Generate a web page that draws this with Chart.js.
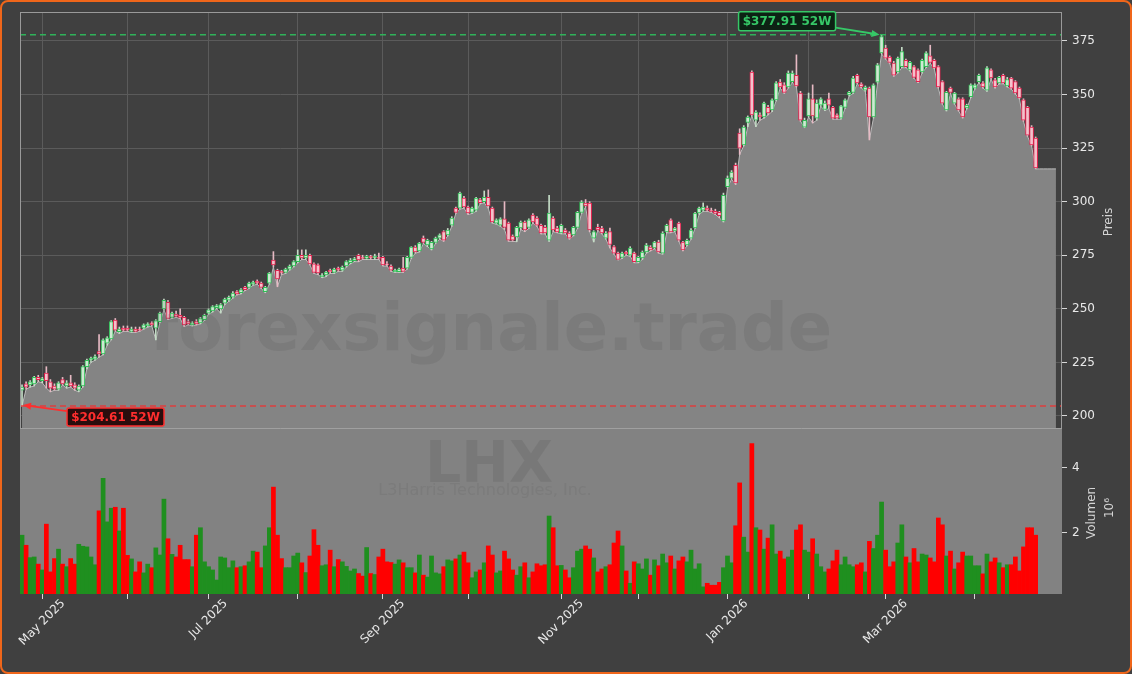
<!DOCTYPE html>
<html>
<head>
<meta charset="utf-8">
<script src="https://cdn.jsdelivr.net/npm/chart.js@4/dist/chart.umd.min.js"></script>
<style>
  html, body { margin: 0; padding: 0; background: #404040; }
  #wrap { position: relative; width: 1132px; height: 674px; overflow: hidden; background: #404040; }
  #wrap canvas { position: absolute; left: 0; }
  #priceCanvas { top: 0; }
  #volumeCanvas { top: 428px; }
  #frame { position: absolute; left: 0; top: 0; width: 1132px; height: 674px; box-sizing: border-box;
           border: 2px solid #f0661a; border-radius: 8px; pointer-events: none; }
</style>
</head>
<body>
<div id="wrap">
  <canvas id="priceCanvas" width="1132" height="428"></canvas>
  <canvas id="volumeCanvas" width="1132" height="246"></canvas>
  <div id="frame"></div>
</div>
<script>
// LHX daily candles, 24 Apr 2025 - 23 Apr 2026
const firstTradingDay = '2025-04-24';
const holidays = ['2025-05-26', '2025-06-19', '2025-07-04', '2025-09-01', '2025-11-27',
                  '2025-12-25', '2026-01-01', '2026-01-19', '2026-02-16', '2026-04-03'];
const monthNames = ['Jan', 'Feb', 'Mar', 'Apr', 'May', 'Jun', 'Jul', 'Aug', 'Sep', 'Oct', 'Nov', 'Dec'];

const open = [
  212, 215, 214.5, 215, 218, 216.5, 220, 216, 214, 212.5,
  217, 214, 215.5, 214.5, 212, 214, 223, 226, 226.5, 230,
  229, 234, 236, 244.8, 239.3, 241, 241, 239.5, 240.5, 240.5,
  241, 242, 243.5, 241, 244, 250, 253, 246, 247.5, 247,
  246, 244, 242.5, 244, 243.4, 245, 248, 249, 250.5, 250,
  252.7, 254, 255.5, 258, 257.5, 260, 260, 261.5, 263, 262,
  258, 262, 272.8, 268, 267.5, 267, 268.5, 270, 272, 275,
  273.7, 275, 271, 270.5, 265, 265.8, 268, 267, 269, 268,
  270, 271.5, 272.5, 275, 274, 273.5, 274.5, 273.7, 274, 274,
  271, 270, 267.3, 267.3, 269, 269, 274, 278.8, 277, 283,
  279.8, 278, 281, 283, 286, 284.5, 289, 297, 297, 301.7,
  297.5, 295, 296, 301, 300, 302, 297, 290, 289, 292,
  290, 284, 283.5, 287.7, 290.5, 288, 293.8, 292.4, 289, 288,
  282, 292.4, 287.7, 285.4, 286.8, 285.4, 284.5, 288, 295, 299.4,
  299.4, 283, 288, 287.7, 283, 286, 279, 276, 274, 276.5,
  275, 276, 272, 273.7, 276.5, 278.8, 278.4, 281.2, 276, 285.9,
  291.5, 286.3, 290, 281.2, 279.8, 283, 287.7, 294.7, 296, 297,
  296, 295.5, 295, 291, 307, 311, 317, 332, 326.5, 337,
  360.5, 338, 340.5, 339.5, 344, 342.8, 347.5, 355.8, 354.5, 353.5,
  356, 359, 350.7, 334.8, 340, 348, 339, 345, 343, 348,
  344, 340.5, 339, 344, 349.8, 351, 359, 355, 352, 353,
  339.5, 355.8, 369.4, 371.7, 367.5, 364.7, 360.5, 363, 366, 361.5,
  363, 361.5, 360.5, 363, 368, 366, 363, 356, 342.8, 353,
  346, 348, 348, 343.7, 349, 353, 356, 355.4, 352, 361.5,
  356.8, 355.4, 359, 354, 357.7, 356, 353, 347.5, 344, 334.8,
  329.7
];

const high = [
  214.5, 216, 216.5, 218.5, 219, 218, 223, 217, 215, 216,
  218, 216.5, 219, 215.5, 214.5, 223.5, 226.5, 227.5, 228.5, 238,
  236, 237, 244.5, 245.5, 241.5, 242, 242, 241.5, 241.5, 241.5,
  243, 243.5, 244, 245, 248.5, 254.5, 254, 248.5, 249, 250,
  246.5, 245, 244, 245, 246, 247.5, 250, 251.5, 252, 252.5,
  255, 256, 258, 258.5, 259.5, 260.5, 262.5, 263, 263.5, 262.5,
  260.5, 267, 276.7, 268.5, 268, 269, 270.5, 272.5, 277.5, 277.5,
  277.5, 275.5, 271.5, 271, 266.5, 267.5, 268.5, 269, 269.5, 270,
  272.5, 273.5, 274, 275.5, 275, 275, 275, 275.5, 276, 274.5,
  272, 270.5, 268.5, 269, 274, 274.5, 279, 279.5, 281, 284,
  282.5, 281.5, 283.5, 285, 286.5, 287.5, 293, 297.5, 304.5, 302.5,
  298, 297.5, 302, 301.5, 305, 305.5, 297.5, 292, 292.5, 300,
  290.5, 284.5, 288.5, 291, 291, 292, 294.5, 293, 289.5, 289,
  303, 293, 288.5, 289.5, 287.5, 286, 288.5, 295.5, 300.5, 301,
  300, 286.5, 289.5, 288.5, 286, 287.7, 279.5, 276.5, 276.5, 277,
  279, 276.5, 274.5, 277, 280.5, 279.5, 281.5, 282, 286, 289.5,
  292, 288, 290.5, 281.5, 282.5, 287.5, 295, 297.5, 299.4, 298,
  297, 296.5, 295.5, 304, 312, 314.5, 318, 334, 335.5, 340,
  361, 342.5, 341.5, 346.5, 345, 348, 356, 357, 355.5, 361,
  361, 368.5, 351.5, 339, 350.7, 354.5, 347.5, 348.5, 347, 350.7,
  344.5, 341, 345, 348, 351.5, 358.5, 359.5, 355.5, 354, 353.5,
  355, 364.5, 377.91, 373, 368, 365.5, 367.5, 372, 366.5, 365.5,
  363.5, 362, 366.5, 370, 373, 366.5, 363.5, 356.5, 351.5, 353.5,
  351, 348.5, 348.5, 345.5, 355, 355, 359.5, 356, 363, 362,
  357.5, 358.5, 359.5, 358, 358, 356.5, 353.5, 348, 344.5, 335.5,
  330.2
];

const low = [
  204.61, 212.5, 213.5, 214, 216, 215.5, 213, 211.3, 212, 212,
  214.5, 213, 213.5, 212, 211.3, 213.5, 222, 225, 226, 227.5,
  228.5, 233, 235.5, 239.5, 238.5, 239.5, 239.5, 239, 239, 239.5,
  240.5, 241.5, 242, 235.5, 243.5, 249.5, 245, 245.5, 246, 245.5,
  241.7, 242.5, 242, 242.5, 243, 244.5, 247.5, 248.5, 250, 248,
  252, 253.5, 255, 256.5, 257, 258.5, 259.5, 261, 261.5, 259.5,
  257.5, 261.5, 269.5, 260.3, 266, 266.5, 268, 269.5, 271.5, 273,
  273, 270.5, 266.5, 266, 264.5, 265, 266.5, 266.5, 267.5, 267.5,
  269.5, 271, 272, 272, 273, 273, 273, 273, 273, 270,
  270, 267.5, 267, 267, 267, 268.5, 273.5, 276, 276.5, 280.5,
  279, 277.5, 280.5, 282.5, 281.5, 284, 288.5, 294.5, 296.5, 297,
  294, 294.5, 295.5, 299, 299.5, 297, 290, 289.5, 288.5, 287,
  281.5, 281.5, 281.3, 287, 286, 287.5, 290, 288.5, 285, 285,
  281.5, 286, 285.5, 285, 285, 282.5, 284, 287.5, 294.5, 297.5,
  286, 281.2, 286.5, 285, 282.5, 278.4, 275.5, 272.8, 273.5, 275,
  274.5, 271.5, 271.5, 273, 276, 277, 278, 276, 275.5, 285.5,
  285.5, 286, 281.5, 277, 279.3, 282.5, 287.5, 294, 295.5, 295.5,
  295, 294, 292.5, 290.5, 306.5, 310.5, 308, 322, 326, 335,
  340, 335, 338, 339, 340.5, 342, 347, 353, 350.5, 353,
  355.5, 353.5, 337.5, 334.5, 339.5, 336.7, 338, 344.5, 342.5, 343.5,
  338.5, 338.5, 338.5, 343.5, 349.3, 350.5, 355, 353, 351.5, 328.8,
  339, 355.3, 369, 366.5, 364.5, 358.5, 360, 362.5, 362.5, 361,
  357.5, 355.5, 360, 362.5, 364.5, 362, 353, 345.5, 342.3, 350.5,
  345.5, 342.3, 339, 343.2, 348.5, 352.5, 355.5, 353, 351.5, 357.2,
  353, 355, 355, 353.5, 352.5, 350.2, 348, 337.5, 330.5, 326,
  315.3
];

const close = [
  213.5, 213.5, 216, 218, 217, 217.5, 216.5, 213, 212.5, 215.5,
  215, 215.5, 214, 213, 214, 223, 226, 227, 227.7, 229,
  235.5, 236.5, 244, 240, 240.5, 240, 240, 240.5, 239.5, 240,
  242.5, 243, 242.5, 244.5, 248, 254, 245.5, 248, 246.5, 246,
  242.5, 243, 243.5, 243, 245.5, 247, 249.5, 251, 251.5, 252,
  254.6, 255.5, 257.4, 257, 259, 259, 262, 262.5, 262, 260,
  260, 266.7, 270.5, 264, 266.7, 268.5, 270, 272, 275, 273.7,
  275, 271, 267, 266.7, 265.8, 267.2, 267.2, 268.5, 268, 269.5,
  272, 272.8, 273.5, 272.8, 273.5, 274.5, 273.7, 274.5, 273.5, 270.5,
  270.5, 268, 268, 268.5, 267.5, 274, 278.8, 276.5, 280.7, 281,
  282, 281, 283, 284.5, 282, 286.8, 292.4, 295, 304, 297.5,
  294.7, 297, 301.7, 299.5, 302, 298, 290.5, 291.5, 292, 288,
  282, 282, 288, 290.5, 286.8, 291.5, 290.5, 289, 285.4, 285.4,
  294.7, 286.8, 285.9, 289, 285.4, 283, 288, 295, 299.8, 298,
  286.8, 286, 286.8, 285.4, 285.4, 280, 276, 273, 276, 275.6,
  278.4, 272, 274, 276.5, 279.8, 277.5, 281.2, 276.5, 285.4, 289,
  285.9, 287.7, 282, 277.5, 282, 286.8, 294.7, 297, 297.5, 296,
  295.5, 294.5, 293.5, 303, 311, 313.8, 308.7, 325, 334.8, 339.5,
  340.5, 341.8, 339.5, 346, 341.4, 347.5, 355.4, 353.5, 351, 360,
  360, 354, 338, 338, 348, 340, 346, 348, 346, 345,
  339, 339, 344.7, 347.5, 351, 357.7, 355.4, 353.5, 353.5, 339.5,
  354.5, 363.8, 377, 367, 365, 359, 367, 370, 363, 365,
  358, 356, 366, 369.4, 365, 362.4, 353.5, 346, 351, 351,
  350.7, 342.8, 339.5, 345, 354.5, 354.5, 359, 353.5, 362.4, 357.7,
  353.5, 358, 355.4, 357, 353, 350.7, 348.4, 338, 331, 326.5,
  315.7
];

// volume in millions of shares
const volume = [
  1.93, 1.62, 1.24, 1.26, 1.04, 0.86, 2.27, 0.80, 1.21, 1.50,
  1.04, 0.96, 1.21, 1.04, 1.65, 1.59, 1.57, 1.26, 1.02, 2.68,
  3.68, 2.34, 2.76, 2.79, 2.06, 2.76, 1.31, 1.20, 0.80, 1.11,
  0.77, 1.04, 0.93, 1.54, 1.32, 3.04, 1.82, 1.34, 1.26, 1.62,
  1.18, 1.18, 0.96, 1.93, 2.16, 1.11, 0.96, 0.86, 0.55, 1.26,
  1.23, 0.93, 1.14, 0.93, 0.96, 0.99, 1.11, 1.44, 1.41, 0.93,
  1.60, 2.16, 3.41, 1.93, 1.21, 0.93, 0.93, 1.29, 1.38, 1.08,
  0.78, 1.29, 2.10, 1.62, 0.99, 1.02, 1.47, 0.96, 1.18, 1.11,
  0.97, 0.83, 0.89, 0.75, 0.67, 1.55, 0.75, 0.72, 1.26, 1.50,
  1.11, 1.09, 1.04, 1.17, 1.08, 0.93, 0.93, 0.77, 1.32, 0.70,
  0.64, 1.29, 0.77, 0.74, 0.96, 1.17, 1.14, 1.20, 1.32, 1.41,
  1.08, 0.62, 0.80, 0.86, 1.08, 1.60, 1.32, 0.77, 0.83, 1.44,
  1.20, 0.86, 0.70, 0.96, 1.08, 0.62, 0.80, 1.05, 0.99, 1.02,
  2.52, 2.16, 0.99, 1.00, 0.86, 0.62, 0.93, 1.44, 1.50, 1.60,
  1.50, 1.23, 0.80, 0.89, 0.96, 1.02, 1.69, 2.06, 1.60, 0.83,
  0.45, 1.11, 1.05, 0.89, 1.20, 0.70, 1.17, 0.99, 1.35, 1.08,
  1.29, 0.89, 1.14, 1.26, 1.11, 1.47, 0.89, 1.05, 0.34, 0.45,
  0.39, 0.39, 0.48, 0.93, 1.29, 1.08, 2.22, 3.54, 1.87, 1.41,
  4.75, 2.16, 2.09, 1.50, 1.84, 2.25, 1.35, 1.44, 1.20, 1.26,
  1.47, 2.09, 2.25, 1.47, 1.41, 1.82, 1.35, 0.96, 0.80, 0.89,
  1.14, 1.47, 1.02, 1.26, 1.02, 0.96, 1.02, 1.08, 0.80, 1.74,
  1.52, 1.93, 2.95, 1.47, 0.96, 1.11, 1.69, 2.25, 1.26, 1.08,
  1.52, 1.11, 1.35, 1.32, 1.23, 1.11, 2.46, 2.25, 1.29, 1.44,
  0.89, 1.08, 1.41, 1.29, 1.29, 0.99, 0.99, 0.74, 1.35, 1.11,
  1.23, 1.08, 0.93, 1.02, 1.02, 1.26, 0.83, 1.57, 2.16, 2.16,
  1.93
];

const priceTicks = { min: 194.4, max: 388.5, step: 25 };
const volumeTicks = { min: 0.12, max: 5.23, step: 2 };
const emptySlots = 6;       // blank room right of the last candle
const areaTailSlots = 5;    // the grey fill runs on flat past the last candle

Chart.defaults.font.family = "'DejaVu Sans', sans-serif";
Chart.defaults.font.size = 12;

// trading calendar for the category axis
function buildTradingDays(start, count) {
    const out = [];
    const d = new Date(start + 'T00:00:00Z');
    while (out.length < count) {
        const iso = d.toISOString().slice(0, 10);
        const wd = d.getUTCDay();
        if (wd !== 0 && wd !== 6 && !holidays.includes(iso)) out.push(iso);
        d.setUTCDate(d.getUTCDate() + 1);
    }
    return out;
}

const dates = buildTradingDays(firstTradingDay, close.length);
const xLabels = dates.concat(Array(emptySlots).fill(''));
const monthStart = xLabels.map((d, i) => i > 0 && i < dates.length && d.slice(5, 7) !== dates[i - 1].slice(5, 7));
const tickLabels = xLabels.map((d, i) => {
    if (!monthStart[i]) return '';
    const m = +d.slice(5, 7);
    return m % 2 === 1 ? monthNames[m - 1] + ' ' + d.slice(0, 4) : '';
});

const isUp = close.map((c, i) => c >= open[i]);
const bodies = open.map((o, i) => [o, close[i]]);
const wicks = low.map((l, i) => [l, high[i]]);
const areaData = low.concat(Array(areaTailSlots).fill(low[low.length - 1]));

const highIdx = high.indexOf(Math.max(...high));
const lowIdx = low.indexOf(Math.min(...low));

// no extra room for tick labels, the panels sit flush
function noPadding(s) {
    s.paddingTop = 0;
    s.paddingBottom = 0;
    s.paddingLeft = 0;
    s.paddingRight = 0;
}

function drawArrow(ctx, x1, y1, x2, y2, color) {
    const a = Math.atan2(y2 - y1, x2 - x1);
    ctx.save();
    ctx.strokeStyle = color;
    ctx.fillStyle = color;
    ctx.lineWidth = 1.8;
    ctx.beginPath();
    ctx.moveTo(x1, y1);
    ctx.lineTo(x2 - 6 * Math.cos(a), y2 - 6 * Math.sin(a));
    ctx.stroke();
    ctx.beginPath();
    ctx.moveTo(x2, y2);
    ctx.lineTo(x2 - 8 * Math.cos(a) + 3.5 * Math.sin(a), y2 - 8 * Math.sin(a) - 3.5 * Math.cos(a));
    ctx.lineTo(x2 - 8 * Math.cos(a) - 3.5 * Math.sin(a), y2 - 8 * Math.sin(a) + 3.5 * Math.cos(a));
    ctx.closePath();
    ctx.fill();
    ctx.restore();
}

function drawTag(ctx, text, x, y, w, h, fg, bg) {
    ctx.save();
    ctx.fillStyle = bg;
    ctx.strokeStyle = fg;
    ctx.lineWidth = 1.5;
    ctx.beginPath();
    ctx.roundRect(x, y, w, h, 2);
    ctx.fill();
    ctx.stroke();
    ctx.fillStyle = fg;
    ctx.font = "bold 12px 'DejaVu Sans'";
    ctx.textAlign = 'center';
    ctx.textBaseline = 'middle';
    ctx.fillText(text, x + w / 2, y + h / 2 + 1);
    ctx.restore();
}

function fitText(ctx, text, weight, width) {
    ctx.font = weight + " 100px 'DejaVu Sans'";
    const size = 100 * width / ctx.measureText(text).width;
    ctx.font = weight + ' ' + size.toFixed(1) + "px 'DejaVu Sans'";
}

function drawAxisTitle(ctx, text, x, y) {
    ctx.save();
    ctx.translate(x, y);
    ctx.rotate(-Math.PI / 2);
    ctx.fillStyle = '#d4d4d4';
    ctx.font = "12px 'DejaVu Sans'";
    ctx.textAlign = 'center';
    ctx.textBaseline = 'middle';
    ctx.fillText(text, 0, 0);
    ctx.restore();
}

const pricePlugin = {
    id: 'priceExtras',
    afterDatasetsDraw(chart) {
        const { ctx, chartArea: a, scales: { x, y } } = chart;
        ctx.save();

        // watermark
        ctx.fillStyle = 'rgba(70,70,70,0.14)';
        fitText(ctx, 'forexsignale.trade', 'bold', 683);
        ctx.textAlign = 'center';
        ctx.textBaseline = 'alphabetic';
        ctx.fillText('forexsignale.trade', 491, 350);

        // 52 week lines
        const yHi = y.getPixelForValue(high[highIdx]);
        const yLo = y.getPixelForValue(low[lowIdx]);
        ctx.lineWidth = 1.5;
        ctx.setLineDash([6, 4]);
        ctx.strokeStyle = 'rgba(46,184,92,0.95)';
        ctx.beginPath(); ctx.moveTo(a.left, yHi); ctx.lineTo(a.right, yHi); ctx.stroke();
        ctx.strokeStyle = 'rgba(226,58,58,0.95)';
        ctx.beginPath(); ctx.moveTo(a.left, yLo); ctx.lineTo(a.right, yLo); ctx.stroke();
        ctx.setLineDash([]);

        // panel frame
        ctx.strokeStyle = '#9a9a9a';
        ctx.lineWidth = 1;
        ctx.strokeRect(a.left + 0.5, a.top + 0.5, a.width - 1, a.height);
        ctx.restore();

        // 52W tags
        const xHi = x.getPixelForValue(highIdx);
        const xLo = x.getPixelForValue(lowIdx);
        const hiText = '$' + high[highIdx].toFixed(2) + ' 52W';
        const loText = '$' + low[lowIdx].toFixed(2) + ' 52W';
        drawTag(ctx, hiText, xHi - 143, yHi - 23, 97, 19, '#36c867', '#0d2214');
        drawArrow(ctx, xHi - 46, yHi - 7, xHi - 2, yHi, '#36c867');
        drawTag(ctx, loText, xLo + 45, yLo + 2, 97, 18, '#ff2e2e', '#2a0d0d');
        drawArrow(ctx, xLo + 45, yLo + 5, xLo + 1, yLo - 1, '#ff2e2e');

        drawAxisTitle(ctx, 'Preis', 1109, 222);
    }
};

const volumePlugin = {
    id: 'volumeExtras',
    beforeDatasetsDraw(chart) {
        const { ctx, chartArea: a } = chart;
        ctx.save();
        ctx.fillStyle = '#828282';
        ctx.fillRect(a.left, a.top, a.width, a.height);
        ctx.fillStyle = 'rgba(70,70,70,0.15)';
        ctx.textAlign = 'center';
        fitText(ctx, 'LHX', 'bold', 128);
        ctx.fillText('LHX', 489, 54);
        ctx.fillStyle = 'rgba(70,70,70,0.11)';
        fitText(ctx, 'L3Harris Technologies, Inc.', 'normal', 214);
        ctx.fillText('L3Harris Technologies, Inc.', 485, 67);
        ctx.restore();
    },
    afterDatasetsDraw(chart) {
        const { ctx, chartArea: a, scales: { x } } = chart;
        ctx.save();
        ctx.strokeStyle = '#a0a0a0';
        ctx.lineWidth = 1;
        ctx.beginPath();
        ctx.moveTo(a.left, a.top + 0.5);
        ctx.lineTo(a.right, a.top + 0.5);
        ctx.stroke();

        // month labels, centred under their tick and turned 45 degrees
        ctx.fillStyle = '#e8e8e8';
        ctx.font = "12px 'DejaVu Sans'";
        ctx.textAlign = 'center';
        ctx.textBaseline = 'middle';
        tickLabels.forEach((t, i) => {
            if (!t) return;
            const w = ctx.measureText(t).width;
            const cx = x.getPixelForValue(i);
            const cy = a.bottom + 3 + (w + 13) * 0.3536;
            ctx.save();
            ctx.translate(cx, cy);
            ctx.rotate(-Math.PI / 4);
            ctx.fillText(t, 0, 0);
            ctx.restore();
        });
        ctx.restore();

        drawAxisTitle(ctx, 'Volumen', 1092, 85);
        drawAxisTitle(ctx, '10\u2076', 1110, 80);
    }
};

const gridColor = '#5b5b5b';
const hidden = 'rgba(0,0,0,0)';

new Chart(document.getElementById('priceCanvas'), {
    type: 'bar',
    data: {
        labels: xLabels,
        datasets: [{
            label: 'Kerzen',
            data: bodies,
            grouped: false,
            barThickness: 4,
            borderWidth: 1,
            borderSkipped: false,
            backgroundColor: c => isUp[c.dataIndex] ? '#cfe9d3' : '#f3c2cc',
            borderColor: c => isUp[c.dataIndex] ? '#2fbf55' : '#e3234f',
            order: 1
        }, {
            label: 'Dochte',
            data: wicks,
            grouped: false,
            barThickness: 1,
            backgroundColor: c => isUp[c.dataIndex] ? '#c4dcc6' : '#e6b9c3',
            order: 2
        }, {
            type: 'line',
            label: 'Tief',
            data: areaData,
            fill: 'start',
            backgroundColor: '#848484',
            borderColor: '#bcbcbc',
            borderWidth: 1,
            pointRadius: 0,
            tension: 0,
            order: 3
        }]
    },
    options: {
        responsive: false,
        animation: false,
        events: [],
        layout: { padding: { left: 20, top: 12, right: 0, bottom: 0 } },
        plugins: { legend: { display: false }, tooltip: { enabled: false } },
        scales: {
            x: {
                offset: true,
                grid: { offset: false, drawTicks: false, color: c => monthStart[c.index] ? gridColor : hidden },
                ticks: { display: false, autoSkip: false },
                border: { display: false },
                afterFit: s => { s.height = 0; noPadding(s); }
            },
            y: {
                position: 'right',
                min: priceTicks.min,
                max: priceTicks.max,
                ticks: { stepSize: priceTicks.step, includeBounds: false, color: '#e8e8e8', padding: 5 },
                grid: { color: gridColor, tickColor: '#d8d8d8', tickLength: 5 },
                border: { display: false },
                afterFit: s => { s.width = 70; noPadding(s); }
            }
        }
    },
    plugins: [pricePlugin]
});

new Chart(document.getElementById('volumeCanvas'), {
    type: 'bar',
    data: {
        labels: xLabels,
        datasets: [{
            label: 'Volumen',
            data: volume,
            barPercentage: 1,
            categoryPercentage: 1,
            backgroundColor: c => isUp[c.dataIndex] ? '#1f8f1f' : '#ff0000'
        }]
    },
    options: {
        responsive: false,
        animation: false,
        events: [],
        layout: { padding: { left: 20, top: 0, right: 0, bottom: 0 } },
        plugins: { legend: { display: false }, tooltip: { enabled: false } },
        scales: {
            x: {
                offset: true,
                grid: {
                    offset: false,
                    drawOnChartArea: false,
                    tickLength: 5,
                    tickColor: c => monthStart[c.index] ? '#d8d8d8' : hidden
                },
                ticks: { display: false, autoSkip: false },
                border: { display: false },
                afterFit: s => { s.height = 80; noPadding(s); }
            },
            y: {
                position: 'right',
                min: volumeTicks.min,
                max: volumeTicks.max,
                ticks: { stepSize: volumeTicks.step, includeBounds: false, color: '#e8e8e8', padding: 5 },
                grid: { drawOnChartArea: false, tickColor: '#d8d8d8', tickLength: 5 },
                border: { display: false },
                afterFit: s => { s.width = 70; noPadding(s); }
            }
        }
    },
    plugins: [volumePlugin]
});
</script>
</body>
</html>
